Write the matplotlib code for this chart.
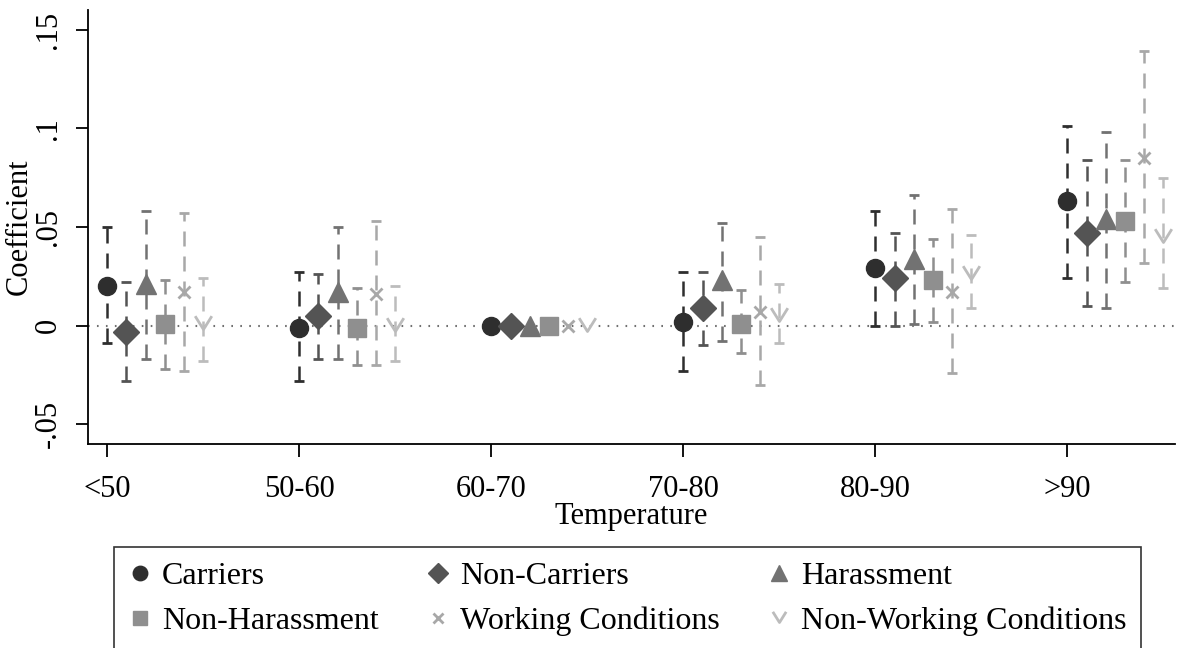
import matplotlib
matplotlib.use("Agg")
import matplotlib.pyplot as plt
import numpy as np
from matplotlib.path import Path

plt.rcParams['font.family'] = ['Liberation Serif', 'DejaVu Serif']

# temperature bins on the x axis
categories = ['<50', '50-60', '60-70', '70-80', '80-90', '>90']

# point estimates and 95% bounds for each group (60-70 is the omitted bin)
carriers = [0.020, -0.001, 0.0, 0.002, 0.029, 0.063]
carriers_lo = [-0.009, -0.028, None, -0.023, 0.000, 0.024]
carriers_hi = [0.050, 0.027, None, 0.027, 0.058, 0.101]

non_carriers = [-0.003, 0.005, 0.0, 0.009, 0.024, 0.047]
non_carriers_lo = [-0.028, -0.017, None, -0.010, 0.000, 0.010]
non_carriers_hi = [0.022, 0.026, None, 0.027, 0.047, 0.084]

harassment = [0.021, 0.017, 0.0, 0.023, 0.034, 0.054]
harassment_lo = [-0.017, -0.017, None, -0.008, 0.001, 0.009]
harassment_hi = [0.058, 0.050, None, 0.052, 0.066, 0.098]

non_harassment = [0.001, -0.001, 0.0, 0.001, 0.023, 0.053]
non_harassment_lo = [-0.022, -0.020, None, -0.014, 0.002, 0.022]
non_harassment_hi = [0.023, 0.019, None, 0.018, 0.044, 0.084]

working = [0.017, 0.016, 0.0, 0.007, 0.017, 0.085]
working_lo = [-0.023, -0.020, None, -0.030, -0.024, 0.032]
working_hi = [0.057, 0.053, None, 0.045, 0.059, 0.139]

non_working = [0.001, 0.000, 0.0, 0.005, 0.026, 0.045]
non_working_lo = [-0.018, -0.018, None, -0.009, 0.009, 0.019]
non_working_hi = [0.024, 0.020, None, 0.021, 0.046, 0.075]

labels = ['Carriers', 'Non-Carriers', 'Harassment',
          'Non-Harassment', 'Working Conditions', 'Non-Working Conditions']

# open "v" marker like Stata's smv
vmark = Path([(-1, 1), (0, -0.6), (1, 1)],
             [Path.MOVETO, Path.LINETO, Path.LINETO])

series = [
    (carriers, carriers_lo, carriers_hi, '#2e2e2e', 'o', 13, True),
    (non_carriers, non_carriers_lo, non_carriers_hi, '#545454', 'D', 13, True),
    (harassment, harassment_lo, harassment_hi, '#727272', '^', 14, True),
    (non_harassment, non_harassment_lo, non_harassment_hi, '#8f8f8f', 's', 13, True),
    (working, working_lo, working_hi, '#a8a8a8', 'x', 9, False),
    (non_working, non_working_lo, non_working_hi, '#bcbcbc', vmark, 12, False),
]

fig = plt.figure(figsize=(11.8, 6.48), dpi=100)
ax = fig.add_axes([88 / 1180, 1 - 444 / 648, (1175 - 88) / 1180, 434 / 648])

x = np.arange(len(categories))
ax.axhline(0, color='#707070', lw=1.5, ls=(0, (0.8, 3.5)), zorder=1)

handles = []
for j, (est, lo, hi, col, mk, ms, filled) in enumerate(series):
    xs = x + 0.1 * j
    est = np.array(est, dtype=float)
    lo = np.array([np.nan if v is None else v for v in lo])
    hi = np.array([np.nan if v is None else v for v in hi])
    m = ~np.isnan(lo)
    eb = ax.errorbar(xs[m], est[m], yerr=[est[m] - lo[m], hi[m] - est[m]],
                     fmt='none', ecolor=col, elinewidth=1.8, capsize=3.8,
                     capthick=2.0, zorder=2)
    eb[2][0].set_linestyle((0, (6, 4)))
    if filled:
        h, = ax.plot(xs, est, ls='none', marker=mk, ms=ms, color=col,
                     mec=col, zorder=3)
    else:
        h, = ax.plot(xs, est, ls='none', marker=mk, ms=ms, color=col,
                     mfc='none', mew=2.0, zorder=3)
    handles.append(h)

ax.set_xlim(-0.1, 5.56)
ax.set_ylim(-0.06, 0.16)
ax.set_xticks(x)
ax.set_xticklabels(categories)
ax.set_yticks([-0.05, 0, 0.05, 0.1, 0.15])
ax.set_yticklabels(['-.05', '0', '.05', '.1', '.15'], rotation=90, va='center')
ax.tick_params(labelsize=22, length=9, width=1.3, colors='black')
ax.tick_params(axis='x', pad=13)
ax.tick_params(axis='y', pad=9)
for s in ['top', 'right']:
    ax.spines[s].set_visible(False)
for s in ['left', 'bottom']:
    ax.spines[s].set_linewidth(1.3)
ax.set_xlabel('Temperature', fontsize=22, labelpad=-1)
ax.set_ylabel('Coefficient', fontsize=22, labelpad=0)

# legend, row-wise order across 3 columns
order = [0, 3, 1, 4, 2, 5]
leg = fig.legend([handles[i] for i in order], [labels[i] for i in order],
                 ncol=3, loc='upper left', bbox_to_anchor=(114 / 1180, 1 - 547 / 648),
                 borderaxespad=0, fontsize=23, frameon=True, fancybox=False,
                 edgecolor='black', handlelength=0.7, handletextpad=0.35,
                 columnspacing=1.5, borderpad=0.45, labelspacing=0.5)
leg.get_frame().set_linewidth(1.2)
for h in leg.legend_handles:
    h.set_markersize(h.get_markersize() * 0.8)

fig.savefig('out.png', dpi=100)
